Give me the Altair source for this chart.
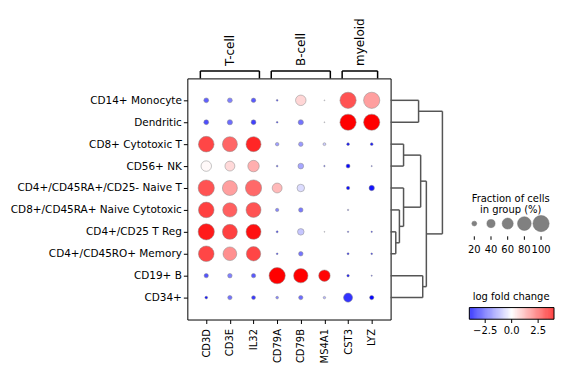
import json
import altair as alt
import pandas as pd
import numpy as np

# ---------------- data ----------------
groups = ["CD14+ Monocyte", "Dendritic", "CD8+ Cytotoxic T", "CD56+ NK",
          "CD4+/CD45RA+/CD25- Naive T", "CD8+/CD45RA+ Naive Cytotoxic",
          "CD4+/CD25 T Reg", "CD4+/CD45RO+ Memory", "CD19+ B", "CD34+"]
genes = ["CD3D", "CD3E", "IL32", "CD79A", "CD79B", "MS4A1", "CST3", "LYZ"]
gene_groups = ["T-cell", "B-cell", "myeloid"]
gene_group_start = [0, 3, 6]
gene_group_end = [2, 5, 7]

# fraction of cells expressing (%), rows = groups, cols = genes
frac_pct = [
    [20, 20, 18, 5, 56, 2, 100, 100],
    [20, 22, 20, 5, 22, 2, 100, 100],
    [95, 90, 90, 13, 18, 10, 9, 9],
    [56, 52, 63, 5, 25, 4, 15, 3],
    [100, 90, 100, 52, 36, 0, 12, 23],
    [95, 85, 90, 12, 18, 0, 4, 0],
    [100, 90, 90, 6, 30, 2, 4, 4],
    [95, 80, 85, 5, 18, 0, 6, 5],
    [17, 18, 17, 100, 85, 63, 8, 3],
    [9, 17, 15, 9, 17, 8, 46, 17],
]
# log fold change
lfc_vals = [
    [-2.5, -2.0, -2.6, -3.0, 0.65, -0.5, 2.7, 1.5],
    [-2.8, -2.3, -3.0, -3.0, -2.2, -0.5, 4.0, 4.0],
    [2.9, 2.4, 3.4, -1.5, -1.6, -0.8, -3.8, -3.6],
    [0.1, 0.6, 1.25, -2.5, -1.4, -2.5, -3.9, -2.5],
    [2.7, 1.5, 2.35, 1.1, -0.55, 0.0, -3.8, -3.7],
    [3.0, 2.5, 2.7, -1.9, -2.1, 0.0, -1.5, 0.0],
    [3.6, 3.0, 3.75, -3.0, -0.9, -0.8, -2.5, -3.0],
    [2.9, 1.75, 2.9, -3.2, -2.2, 0.0, -3.4, -3.2],
    [-2.7, -2.0, -2.6, 4.0, 4.0, 3.9, -3.6, -2.5],
    [-3.7, -2.2, -3.1, -1.9, -2.3, -1.2, -3.2, -3.9],
]
# dendrogram merges: (child a, child b, distance); ids < 10 are leaves (rows),
# id 10 + k is the k-th merge
dendro_merges = [(6, 7, 0.10), (5, 10, 0.17), (4, 11, 0.25), (2, 3, 0.25),
                 (0, 1, 0.54), (13, 12, 0.58), (8, 9, 0.62), (15, 16, 0.69),
                 (14, 17, 1.00)]
size_legend_vals = [20, 40, 60, 80, 100]
color_legend_ticks = [-2.5, 0.0, 2.5]

# ---------------- tables ----------------
rows = []
for gi, g in enumerate(groups):
    for ci, gene in enumerate(genes):
        rows.append({"gi": gi, "ci": ci, "group": g, "gene": gene,
                     "frac": frac_pct[gi][ci] / 100.0, "lfc": lfc_vals[gi][ci]})
dots = pd.DataFrame(rows)

br = pd.DataFrame({
    "label": gene_groups,
    "left": [s - 0.25 for s in gene_group_start],
    "right": [e + 0.25 for e in gene_group_end],
})
br["center"] = (br["left"] + br["right"]) / 2

pos = {i: float(i) for i in range(len(groups))}
hgt = {i: 0.0 for i in range(len(groups))}
segs = []
for k, (a, b, d) in enumerate(dendro_merges):
    nid = len(groups) + k
    segs.append({"x": hgt[a], "x2": d, "gi": pos[a], "gi2": pos[a]})
    segs.append({"x": hgt[b], "x2": d, "gi": pos[b], "gi2": pos[b]})
    segs.append({"x": d, "x2": d, "gi": pos[a], "gi2": pos[b]})
    pos[nid] = (pos[a] + pos[b]) / 2
    hgt[nid] = d
dendro = pd.DataFrame(segs)

size_leg = pd.DataFrame({"v": size_legend_vals})
size_leg["frac"] = size_leg["v"] / 100.0

cb_edges = np.linspace(-4, 4, 161)
cbar = pd.DataFrame({"a": cb_edges[:-1], "b": cb_edges[1:]})
cbar["lfc"] = (cbar["a"] + cbar["b"]) / 2
cticks = pd.DataFrame({"t": color_legend_ticks})

one = pd.DataFrame({"k": [0]})

# ---------------- scales ----------------
W, H = 204, 242
FONT = "DejaVu Sans"
xmain = alt.Scale(domain=[-0.8, len(genes) - 0.2], nice=False, zero=False)
ymain = alt.Scale(domain=[-1, len(groups)], reverse=True, nice=False, zero=False)
size_sc = alt.Scale(type="pow", exponent=1.5, domain=[0, 1], range=[0, 265])
color_sc = alt.Scale(domain=[-4, 0, 4], range=["#0000ff", "#ffffff", "#ff0000"],
                     interpolate="rgb", clamp=True)
xdend = alt.Scale(domain=[0, 1], range=[W, W + 52], nice=False, zero=False)
xsize = alt.Scale(domain=[20, 100], range=[288, 355], nice=False, zero=False)
xcbar = alt.Scale(domain=[-4, 4], range=[283, 368], nice=False, zero=False)

gene_expr = json.dumps(genes) + "[datum.value]"
group_expr = json.dumps(groups) + "[datum.value]"

yaxis = alt.Axis(
    values=list(range(len(groups))), labelExpr=group_expr,
    title=None, grid=False, domain=False, tickSize=4, tickColor="black",
    labelFontSize=10.5, labelColor="black", labelPadding=2, labelFlush=False,
    labelOverlap=False, labelFont=FONT)

main = alt.Chart(dots).transform_filter(alt.datum.frac > 0).mark_circle(
    opacity=1, stroke="#8a8a8a", strokeWidth=0.5
).encode(
    x=alt.X("ci:Q", scale=xmain, axis=alt.Axis(
        values=list(range(len(genes))), labelExpr=gene_expr, labelAngle=-90,
        title=None, grid=False, domain=False, tickSize=4, tickColor="black",
        labelFontSize=10, labelColor="black", labelPadding=5, labelFlush=False,
        labelOverlap=False, labelFont=FONT)),
    y=alt.Y("gi:Q", scale=ymain, axis=yaxis),
    size=alt.Size("frac:Q", scale=size_sc, legend=None),
    color=alt.Color("lfc:Q", scale=color_sc, legend=None),
)

br_h = alt.Chart(br).mark_rule(color="black", strokeWidth=1.5).encode(
    x=alt.X("left:Q", scale=xmain, axis=None), x2="right:Q", y=alt.value(-7.5))
br_l = alt.Chart(br).mark_rule(color="black", strokeWidth=1.5).encode(
    x=alt.X("left:Q", scale=xmain, axis=None), y=alt.value(-7.5), y2=alt.value(0))
br_r = alt.Chart(br).mark_rule(color="black", strokeWidth=1.5).encode(
    x=alt.X("right:Q", scale=xmain, axis=None), y=alt.value(-7.5), y2=alt.value(0))
br_t = alt.Chart(br).mark_text(angle=270, align="left", baseline="middle",
                               fontSize=12, font=FONT, color="black").encode(
    x=alt.X("center:Q", scale=xmain, axis=None), y=alt.value(-12.5), text="label:N")

dend = alt.Chart(dendro).mark_rule(color="#555555", strokeWidth=1.5).encode(
    x=alt.X("x:Q", scale=xdend, axis=None), x2="x2:Q",
    y=alt.Y("gi:Q", scale=ymain, axis=yaxis), y2="gi2:Q")

sl_dots = alt.Chart(size_leg).mark_circle(
    opacity=1, color="#808080", stroke="#707070", strokeWidth=0.5).encode(
    x=alt.X("v:Q", scale=xsize, axis=None), y=alt.value(145.7),
    size=alt.Size("frac:Q", scale=size_sc, legend=None))
sl_ticks = alt.Chart(size_leg).mark_rule(color="black", strokeWidth=1).encode(
    x=alt.X("v:Q", scale=xsize, axis=None), y=alt.value(158.5), y2=alt.value(162))
sl_text = alt.Chart(size_leg).mark_text(
    fontSize=10, font=FONT, baseline="middle", color="black").encode(
    x=alt.X("v:Q", scale=xsize, axis=None), y=alt.value(172),
    text=alt.Text("v:Q", format="d"))
sl_title = alt.Chart(one).mark_text(
    fontSize=10, font=FONT, baseline="middle", align="center", lineBreak="\n",
    lineHeight=11, color="black").encode(
    x=alt.value(324.5), y=alt.value(121.5),
    text=alt.value("Fraction of cells\nin group (%)"))

cb_rect = alt.Chart(cbar).mark_rect(strokeWidth=0).encode(
    x=alt.X("a:Q", scale=xcbar, axis=None), x2="b:Q",
    y=alt.value(230), y2=alt.value(241.7),
    color=alt.Color("lfc:Q", scale=color_sc, legend=None))
cb_border = alt.Chart(one).mark_rect(fillOpacity=0, stroke="black", strokeWidth=1).encode(
    x=alt.value(283), x2=alt.value(368), y=alt.value(230), y2=alt.value(241.7))
cb_ticks = alt.Chart(cticks).mark_rule(color="black", strokeWidth=1).encode(
    x=alt.X("t:Q", scale=xcbar, axis=None), y=alt.value(241.7), y2=alt.value(245.5))
cb_text = alt.Chart(cticks).mark_text(
    fontSize=10, font=FONT, baseline="middle", color="black").encode(
    x=alt.X("t:Q", scale=xcbar, axis=None), y=alt.value(254),
    text=alt.Text("t:Q", format=".1f"))
cb_title = alt.Chart(one).mark_text(
    fontSize=10, font=FONT, baseline="middle", align="center", color="black").encode(
    x=alt.value(325), y=alt.value(219), text=alt.value("log fold change"))

chart = alt.layer(
    main, br_h, br_l, br_r, br_t, dend,
    sl_dots, sl_ticks, sl_text, sl_title,
    cb_rect, cb_border, cb_ticks, cb_text, cb_title,
).resolve_scale(x="independent").properties(
    width=W, height=H,
    autosize=alt.AutoSizeParams(type="none"),
    padding={"left": 180, "top": 70, "right": 166, "bottom": 48},
).configure(font=FONT).configure_view(stroke="black", strokeWidth=1)

chart.save("out.html", embed_options={"renderer": "svg", "actions": False})
